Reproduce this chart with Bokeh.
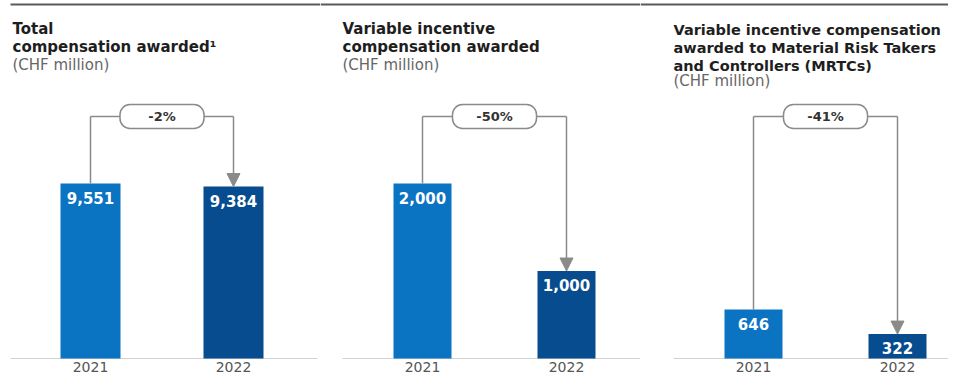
from bokeh.plotting import figure
from bokeh.models import Range1d, FixedTicker, Label, Arrow, NormalHead, Rect
from bokeh.layouts import row
from bokeh.embed import file_html
from bokeh.resources import INLINE
from bokeh.core.properties import value

# ---------------- data ----------------
years = ["2021", "2022"]
total_comp = [9551, 9384]
variable_comp = [2000, 1000]
mrtc_comp = [646, 322]
changes = ["-2%", "-50%", "-41%"]
title_1 = ["Total", "compensation awarded\u00b9"]
title_2 = ["Variable incentive", "compensation awarded"]
title_3 = ["Variable incentive compensation", "awarded to Material Risk Takers",
           "and Controllers (MRTCs)"]
subtitle = "(CHF million)"

# ---------------- style ----------------
BLUE = "#0a73c2"
NAVY = "#064c8e"
GREY = "#8a8a8a"
FONT = "DejaVu Sans"
H = 375            # figure height
FH = 360           # frame height (local px)
BASE = 358         # local px of baseline (value 0)
PAGE_TOP = 0

panels = [
    dict(vals=total_comp, change=changes[0], title=title_1, width=320, left=0, c0=90,
         unit=143, barw=60, top_px=175, tx=12, ty=[28, 46], sy=64, tsize="15px"),
    dict(vals=variable_comp, change=changes[1], title=title_2, width=320, left=320, c0=422,
         unit=144, barw=58, top_px=175, tx=342, ty=[28, 46], sy=64, tsize="15px"),
    dict(vals=mrtc_comp, change=changes[2], title=title_3, width=308, left=640, c0=753,
         unit=144, barw=58, top_px=49, tx=673, ty=[29, 47, 65], sy=80, tsize="14.5px"),
]

rect_kw = {}
if "border_radius" in Rect.properties():
    rect_kw["border_radius"] = 10

figs = []
for pan in panels:
    vals = pan["vals"]
    xs = list(range(len(years)))
    unit = pan["unit"]
    ppd = pan["top_px"] / max(vals)
    x_start = xs[0] - (pan["c0"] - pan["left"]) / unit
    x_end = x_start + pan["width"] / unit
    y_start = -(FH - BASE) / ppd
    y_end = y_start + FH / ppd

    def xd(px, x_start=x_start, pan=pan, unit=unit):
        return x_start + (px - pan["left"]) / unit

    def yd(py, ppd=ppd):
        return (BASE - (py - PAGE_TOP)) / ppd

    p = figure(width=pan["width"], height=H, x_range=Range1d(x_start, x_end),
               y_range=Range1d(y_start, y_end), output_backend="svg",
               toolbar_location=None, y_axis_location=None,
               min_border_left=0, min_border_right=0, min_border_top=0,
               min_border_bottom=H - FH, outline_line_color=None,
               background_fill_color="white", border_fill_color="white")
    p.xgrid.visible = False
    p.ygrid.visible = False

    ax = p.xaxis[0]
    ax.ticker = FixedTicker(ticks=xs)
    ax.major_label_overrides = {x: y for x, y in zip(xs, years)}
    ax.axis_line_color = None
    ax.major_tick_line_color = None
    ax.minor_tick_line_color = None
    ax.major_tick_out = 0
    ax.major_tick_in = 0
    ax.major_label_standoff = 1
    ax.major_label_text_font = FONT
    ax.major_label_text_font_size = "14px"
    ax.major_label_text_color = "#555555"

    # top rule
    p.segment(x0=[xd(max(pan["left"], 10))], x1=[xd(pan["left"] + pan["width"] + 2)],
              y0=[yd(4)], y1=[yd(4)], line_color="#5a5a5a", line_width=2)

    # baseline
    p.segment(x0=[xs[0] - 80 / unit], x1=[xs[-1] + 84 / unit], y0=[0], y1=[0],
              line_color="#d2d2d2", line_width=1)

    # bars
    p.vbar(x=xs, top=vals, bottom=0, width=pan["barw"] / unit,
           fill_color=[BLUE, NAVY], line_color=None)
    p.text(x=xs, y=vals, text=[f"{v:,}" for v in vals], text_color="white",
           text_font=value(FONT), text_font_style="bold", text_font_size="15px",
           text_align="center", text_baseline="top", y_offset=8)

    # connector
    yc = yd(116)
    mid = (xs[0] + xs[-1]) / 2
    p.segment(x0=[xs[0], xs[0]], x1=[xs[0], xs[-1]], y0=[vals[0], yc], y1=[yc, yc],
              line_color=GREY, line_width=1.5)
    p.add_layout(Arrow(end=NormalHead(size=13, fill_color=GREY, line_color=GREY, line_width=1),
                       x_start=xs[-1], y_start=yc, x_end=xs[-1], y_end=vals[-1],
                       line_color=GREY, line_width=1.5))
    p.rect(x=[mid], y=[yc], width=[84], height=[24], width_units="screen",
           height_units="screen", fill_color="white", line_color=GREY, line_width=1.5,
           **rect_kw)
    p.text(x=[mid], y=[yc], text=[pan["change"]], text_color="#333333",
           text_font=value(FONT), text_font_style="bold", text_font_size="13px",
           text_align="center", text_baseline="middle")

    # titles
    for line, cy in zip(pan["title"], pan["ty"]):
        p.add_layout(Label(x=xd(pan["tx"]), y=yd(cy), text=line, text_baseline="middle",
                           text_font=FONT, text_font_size=pan["tsize"],
                           text_font_style="bold", text_color="#1e1e1e"))
    p.add_layout(Label(x=xd(pan["tx"]), y=yd(pan["sy"]), text=subtitle,
                       text_baseline="middle", text_font=FONT, text_font_size="15px",
                       text_color="#666666"))
    figs.append(p)

layout = row(*figs)
open("out.html", "w").write(file_html(layout, INLINE))
